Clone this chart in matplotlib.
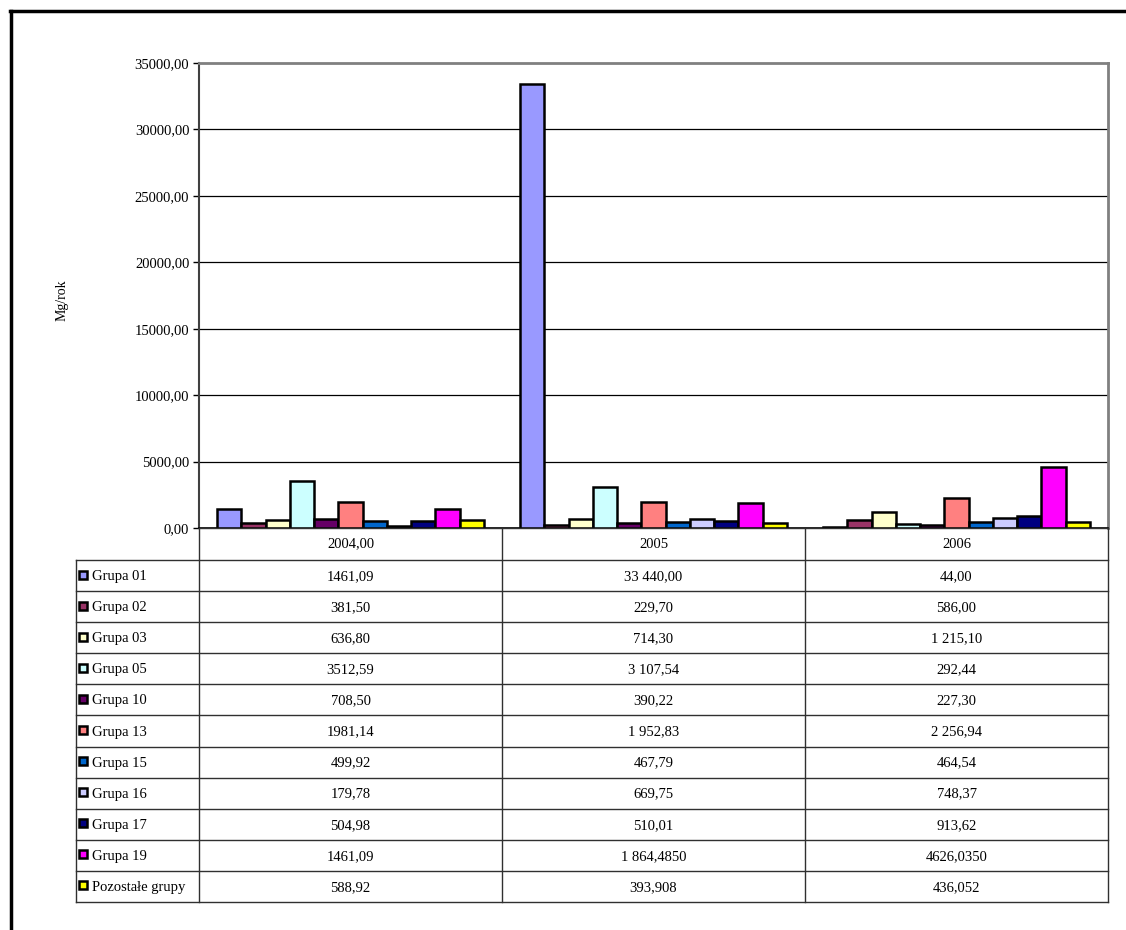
import matplotlib.pyplot as plt
from matplotlib.lines import Line2D
from matplotlib.patches import Rectangle
from matplotlib.ticker import FuncFormatter
import numpy as np

plt.rcParams['font.family'] = ['Liberation Serif', 'DejaVu Serif']

# Data (as shown in the data table)
years = ['2004,00', '2005', '2006']
groups = ['Grupa 01', 'Grupa 02', 'Grupa 03', 'Grupa 05', 'Grupa 10', 'Grupa 13',
          'Grupa 15', 'Grupa 16', 'Grupa 17', 'Grupa 19', 'Pozostałe grupy']
v2004 = ['1461,09', '381,50', '636,80', '3512,59', '708,50', '1981,14',
         '499,92', '179,78', '504,98', '1461,09', '588,92']
v2005 = ['33 440,00', '229,70', '714,30', '3 107,54', '390,22', '1 952,83',
         '467,79', '669,75', '510,01', '1 864,4850', '393,908']
v2006 = ['44,00', '586,00', '1 215,10', '292,44', '227,30', '2 256,94',
         '464,54', '748,37', '913,62', '4626,0350', '436,052']
colors = ['#9999FF', '#993366', '#FFFFCC', '#CCFFFF', '#660066', '#FF8080',
          '#0066CC', '#CCCCFF', '#000080', '#FF00FF', '#FFFF00']

def num(s):
    return float(s.replace(' ', '').replace(',', '.'))

cols = [v2004, v2005, v2006]
values = np.array([[num(c[i]) for c in cols] for i in range(len(groups))])

W, H = 1126, 930
fig = plt.figure(figsize=(W / 100, H / 100), dpi=100)

def fx(x):
    return x / W

def fy(y):
    return 1 - y / H

# outer frame (top and left visible)
fig.add_artist(Line2D([fx(10), fx(1126)], [fy(11), fy(11)], color='black', lw=2.5))
fig.add_artist(Line2D([fx(11), fx(11)], [fy(11), fy(930)], color='black', lw=2.5))

x0, x1, y0, y1 = 199, 1108, 63, 528
ax = fig.add_axes([fx(x0), fy(y1), fx(x1 - x0), fy(y0) - fy(y1)])

n = len(groups)
bw = 1 / (n + 1.5)
x = np.arange(len(years))
for i in range(n):
    ax.bar(x - 0.5 + 0.75 * bw + i * bw + bw / 2, values[i], width=bw,
           color=colors[i], edgecolor='black', linewidth=1.8, zorder=3)

ax.set_xlim(-0.5, 2.5)
ax.set_ylim(0, 35000)
ax.set_yticks(np.arange(0, 35001, 5000))
ax.yaxis.set_major_formatter(FuncFormatter(lambda v, p: f'{v:.2f}'.replace('.', ',')))
ax.set_xticks([])
ax.tick_params(axis='y', labelsize=10.5, length=4, width=1, direction='out', pad=3)
for v in range(5000, 35000, 5000):
    ax.axhline(v, color='black', lw=0.9, zorder=1)
ax.spines['left'].set_color('#404040')
ax.spines['left'].set_linewidth(1.5)
for s in ['top', 'right']:
    ax.spines[s].set_color('#808080')
    ax.spines[s].set_linewidth(2)
ax.spines['bottom'].set_color('black')
ax.spines['bottom'].set_linewidth(1.2)
fig.text(fx(62), fy(300), 'Mg/rok', rotation=90, ha='center', va='center', fontsize=10)

# data table
col_x = [x0, 502, 805, x1]
row_top = 560
row_h = (902 - 560) / n
lc = '#303030'
fig.add_artist(Line2D([fx(x0), fx(x1)], [fy(y1), fy(y1)], color=lc, lw=1))
for i in range(n + 1):
    yy = row_top + i * row_h
    fig.add_artist(Line2D([fx(76), fx(x1)], [fy(yy), fy(yy)], color=lc, lw=1))
for xx in col_x:
    fig.add_artist(Line2D([fx(xx), fx(xx)], [fy(y1), fy(902)], color=lc, lw=1))
fig.add_artist(Line2D([fx(76), fx(76)], [fy(row_top), fy(902)], color=lc, lw=1))

for j, yr in enumerate(years):
    fig.text(fx((col_x[j] + col_x[j + 1]) / 2), fy((y1 + row_top) / 2), yr,
             ha='center', va='center', fontsize=10.5)

for i, g in enumerate(groups):
    yc = row_top + (i + 0.5) * row_h
    fig.add_artist(Rectangle((fx(79), fy(yc + 3)), fx(8), fy(yc - 5) - fy(yc + 3),
                             facecolor=colors[i], edgecolor='black', lw=1.8))
    fig.text(fx(92), fy(yc + 1), g, ha='left', va='center', fontsize=10.5)
    for j, c in enumerate(cols):
        fig.text(fx((col_x[j] + col_x[j + 1]) / 2), fy(yc + 1), c[i],
                 ha='center', va='center', fontsize=10.5)

fig.savefig('out.png', dpi=100)
